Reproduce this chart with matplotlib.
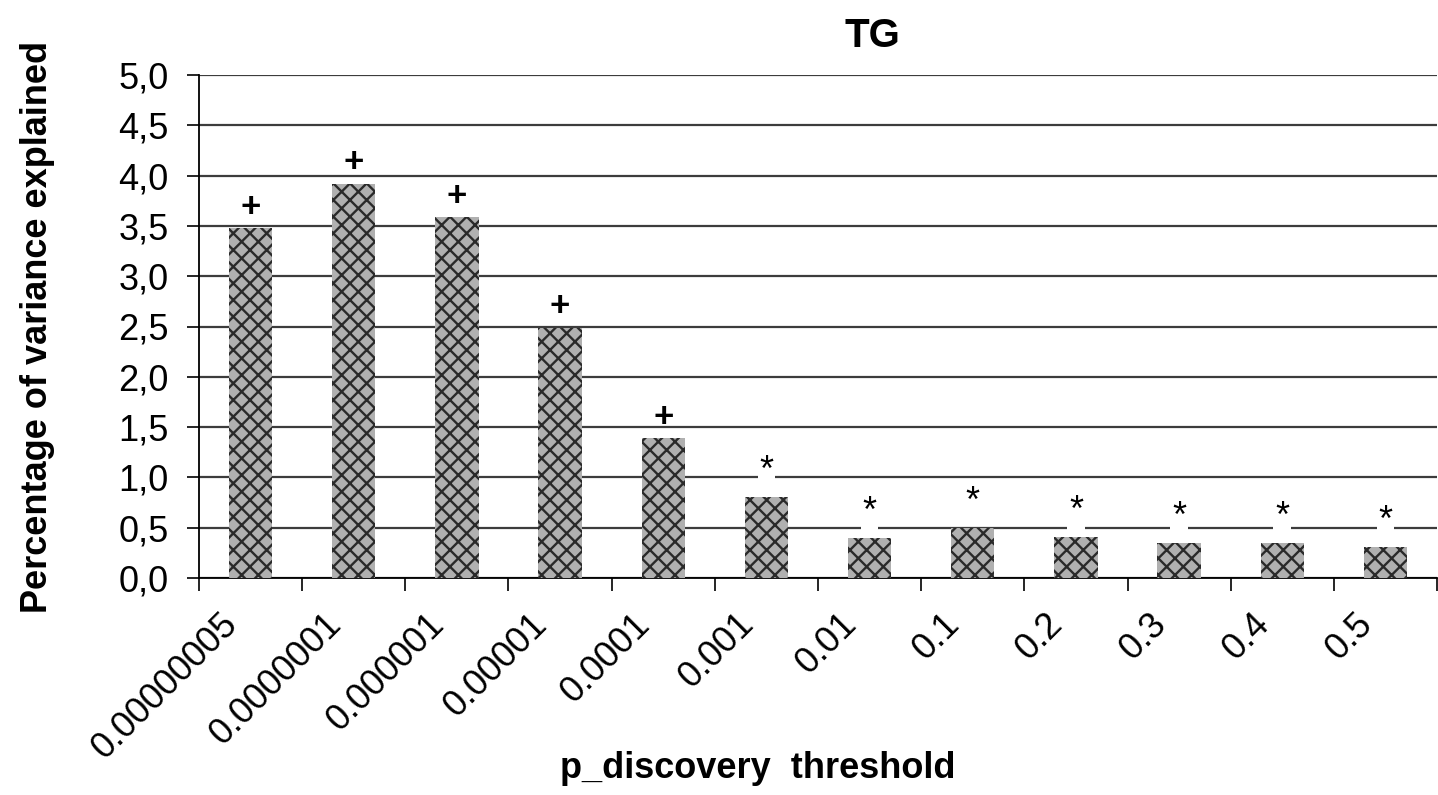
import matplotlib
matplotlib.use("Agg")
import matplotlib.pyplot as plt
import matplotlib.transforms as mtransforms
import numpy as np

categories = ["0.00000005", "0.0000001", "0.000001", "0.00001", "0.0001", "0.001",
              "0.01", "0.1", "0.2", "0.3", "0.4", "0.5"]
values = [3.48, 3.92, 3.59, 2.49, 1.39, 0.81, 0.40, 0.50, 0.41, 0.35, 0.35, 0.31]
marks = ["+", "+", "+", "+", "+", "*", "*", "*", "*", "*", "*", "*"]
yticks = [0.0, 0.5, 1.0, 1.5, 2.0, 2.5, 3.0, 3.5, 4.0, 4.5, 5.0]

plt.rcParams['font.family'] = ['Liberation Sans', 'DejaVu Sans']
plt.rcParams['hatch.linewidth'] = 1.7

W, H = 1438, 795
fig = plt.figure(figsize=(W / 100, H / 100), dpi=100)
ax = fig.add_axes([199 / W, 1 - 578 / H, 1238 / W, (578 - 75) / H])

x = np.arange(len(categories))
ax.bar(x, values, width=0.42, color="#b0b0b0", edgecolor="#2a2a2a",
       hatch="xx", linewidth=0, zorder=3)

for xi, v, m in zip(x, values, marks):
    if m == "+":
        ax.annotate(m, (xi, v), xytext=(0, 15), textcoords="offset points",
                    ha="center", va="center", fontsize=25, fontweight="bold",
                    zorder=5)
    else:
        ax.annotate(m, (xi, v), xytext=(0, 18), textcoords="offset points",
                    ha="center", va="center", fontsize=26,
                    bbox=dict(boxstyle="square,pad=0.05", fc="white", ec="none"),
                    zorder=5)

ax.set_xlim(-0.5, len(categories) - 0.5)
ax.set_ylim(0, 5.0)
ax.set_yticks(yticks)
ax.set_yticklabels([f"{t:.1f}".replace(".", ",") for t in yticks], fontsize=26)
ax.yaxis.grid(True, color="#3c3c3c", linewidth=1.6, zorder=1)
ax.set_axisbelow(True)

# category labels, rotated, drawn as text anchored below each category
ax.set_xticks(x)
ax.set_xticklabels([])
base = ax.get_xaxis_transform()
offset = mtransforms.ScaledTranslation(-18 / 100, -41 / 100, fig.dpi_scale_trans)
for xi, lab in zip(x, categories):
    ax.text(xi, 0, lab, transform=base + offset, rotation=45, ha="right",
            va="center", rotation_mode="anchor", fontsize=26, clip_on=False)

ax.set_xticks(np.arange(-0.5, len(categories) + 0.5, 1), minor=True)
ax.tick_params(axis="x", which="major", length=0, pad=0)
ax.tick_params(axis="x", which="minor", length=9, width=1.2, direction="out")
ax.tick_params(axis="y", length=9, width=1.2, pad=13)

for s in ["top", "right"]:
    ax.spines[s].set_visible(False)
for s in ["left", "bottom"]:
    ax.spines[s].set_linewidth(1.3)
    ax.spines[s].set_color("black")

fig.text(872 / W, 1 - 36 / H, "TG", ha="center", va="center", fontsize=29,
         fontweight="bold")
fig.text(38 / W, 1 - 327 / H, "Percentage of variance explained", rotation=90,
         ha="center", va="center", fontsize=26, fontweight="bold")
fig.text(758 / W, 1 - 768 / H, "p_discovery  threshold", ha="center", va="center",
         fontsize=26, fontweight="bold")

fig.savefig("out.png", dpi=100)
